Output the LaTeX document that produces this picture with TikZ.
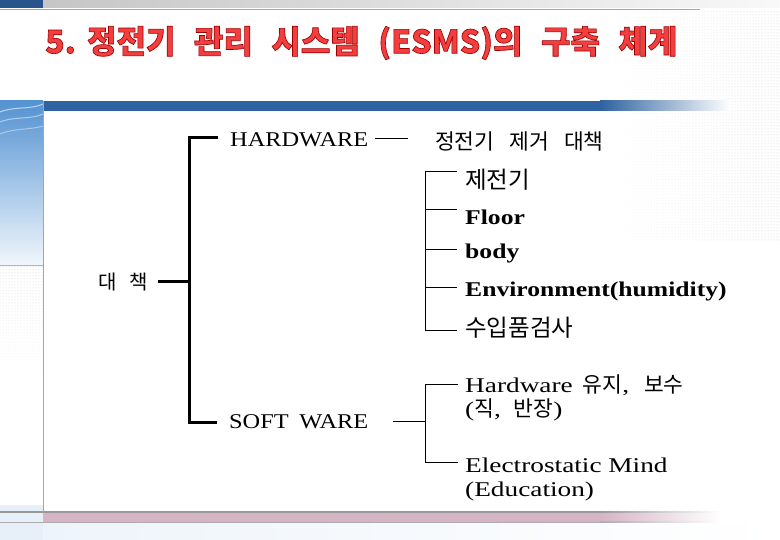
\documentclass[tikz,border=0pt]{standalone}
\usepackage{fontspec}
\usetikzlibrary{patterns,fadings}
\setmainfont{Liberation Serif}
\newfontfamily\kr{Noto Sans CJK KR}
\newfontfamily\titlef[FakeBold=2]{Noto Sans CJK KR}
\newfontfamily\capf[FakeStretch=1.16]{Liberation Serif}
\newfontfamily\txtf[FakeStretch=1.3]{Liberation Serif}
\newfontfamily\bldf[FakeStretch=1.22]{Liberation Serif}
\newcommand\korb[1]{{\kr\mdseries\fontsize{23.5}{26}\selectfont #1}}
\newcommand\kors[1]{{\kr\fontsize{21.5}{24.5}\selectfont #1}}
\newcommand\kgap{\hspace{0.58em}}
\newcommand\wgap{\hspace{0.7em}}
\definecolor{barblue}{RGB}{46,98,160}
\definecolor{topblue}{RGB}{40,84,140}
\definecolor{lblue}{RGB}{84,146,210}
\definecolor{pinkbar}{RGB}{214,180,196}
\definecolor{titlered}{RGB}{242,62,62}
\begin{document}
\begin{tikzpicture}[x=1pt,y=-1pt,
  trunk/.style={line width=3pt,line join=miter},
  twig/.style={line width=0.9pt},
  kfont/.style={font=\kr\fontsize{20}{24}\selectfont},
  capnode/.style={anchor=west,inner ysep=0pt,inner xsep=7pt,font=\capf\fontsize{21}{25}\selectfont},
  item/.style={anchor=west,inner ysep=0pt,inner xsep=8pt,font=\bldf\bfseries\fontsize{21}{25}\selectfont},
  sitem/.style={anchor=west,inner ysep=0pt,inner xsep=7pt,align=left,font=\txtf\fontsize{21}{24.5}\selectfont},
]
\useasboundingbox (0,0) rectangle (780,540);
% ---------- slide background ----------
\fill[white] (0,0) rectangle (780,540);
\shade[left color=gray!45, right color=gray!5] (43,0) rectangle (780,8);
\fill[topblue] (0,0) rectangle (43,8);
\draw[gray!70, line width=0.8pt] (0,9) -- (700,9);
\fill[pattern=dots, pattern color=gray!40, path fading=west] (600,10) rectangle (780,240);
% blue bar
\fill[barblue] (43,101) rectangle (600,111);
\shade[left color=barblue, right color=white] (600,101) rectangle (730,111);
% left decoration
\shade[top color=lblue, bottom color=lblue!8] (0,101) rectangle (43,265);
\draw[white, opacity=0.6, line width=1pt] (0,112) .. controls (15,106) and (30,110) .. (43,104);
\draw[white, opacity=0.5, line width=1pt] (0,122) .. controls (15,116) and (30,120) .. (43,114);
\draw[white, opacity=0.4, line width=1pt] (0,134) .. controls (15,128) and (30,130) .. (43,126);
\draw[gray!60] (0,265) -- (43,265);
\fill[pattern=dots, pattern color=gray!40, path fading=south] (0,266) rectangle (43,380);
\draw[gray!70, line width=0.8pt] (43,101) -- (43,540);
% bottom band
\fill[lblue!14] (0,505) rectangle (43,540);
\fill[pinkbar] (43,512) rectangle (600,522);
\shade[left color=pinkbar, right color=white] (600,512) rectangle (720,522);
\fill[gray!80] (0,511.4) rectangle (600,512.6);
\shade[left color=gray!80, right color=white] (600,511.4) rectangle (720,512.6);
\fill[gray!65] (0,521.5) rectangle (600,522.5);
\shade[left color=gray!65, right color=white] (600,521.5) rectangle (720,522.5);
\shade[left color=lblue!10, right color=white] (43,523) rectangle (780,540);
% ---------- diagram ----------
\coordinate (jm) at (189,282);
\node[kfont, anchor=west, inner ysep=0pt, inner xsep=10pt] (root) at (88,282) {대\hspace{0.65em}책};
\node[capnode] (hw) at (223,140) {HARDWARE};
\node[anchor=west, inner sep=0pt, font=\kr\fontsize{21.5}{25}\selectfont] (ce) at (435,141) {정전기\wgap 제거\wgap 대책};
\node[capnode] (sw) at (222,422) {SOFT\hspace{0.5em}WARE};

\draw[trunk] ([xshift=-5pt]hw.west |- 0,138) -- (jm |- 0,138) -- (jm |- 0,422) -- ([xshift=-5pt]sw.west |- 0,422);
\draw[trunk] (root.east) -- (jm);
\draw[twig] (hw.east |- 0,138) -- ([xshift=-27pt]ce.west |- 0,138);

% hardware items
\coordinate (b1) at (425,171);
\coordinate (b2) at (425,209);
\coordinate (b3) at (425,249);
\coordinate (b4) at (425,287);
\coordinate (b5) at (425,330);
\node[item] (i1) at (457,180) {\korb{제전기}};
\node[item] (i2) at (457,217) {Floor};
\node[item] (i3) at (457,253) {body};
\node[item] (i4) at (457,291) {Environment(humidity)};
\node[item] (i5) at (457,328) {\korb{수입품검사}};
\draw[twig] (b1) -- (b5);
\draw[twig] (b1) -- (b1 -| i1.west);
\draw[twig] (b2) -- (b2 -| i2.west);
\draw[twig] (b3) -- (b3 -| i3.west);
\draw[twig] (b4) -- (b4 -| i4.west);
\draw[twig] (b5) -- (b5 -| i5.west);

% software items
\coordinate (s0) at (393,421);
\coordinate (s1) at (425,384);
\coordinate (s2) at (425,462);
\node[sitem] (t1) at (458,398) {Hardware\hspace{10pt}\kors{유지}, \hspace{8pt}\kors{보수}\\(\kors{직}, \hspace{6pt}\kors{반장})};
\node[sitem] (t2) at (458,479.5) {Electrostatic Mind\\(Education)};
\draw[twig] (s0) -- (s0 -| s1);
\draw[twig] (s1) -- (s2);
\draw[twig] (s1) -- (s1 -| t1.west);
\draw[twig] (s2) -- (s2 -| t2.west);

% ---------- title ----------
\node[anchor=west, inner sep=0pt, text=titlered, font=\titlef\bfseries\fontsize{32}{38}\selectfont] (title) at (45,43)
  {\special{pdf:literal direct 0.62 0 0 RG}5.\hspace{0.35em}정전기\kgap 관리\kgap 시스템\kgap (ESMS)의\kgap 구축\kgap 체계};
\end{tikzpicture}
\end{document}
